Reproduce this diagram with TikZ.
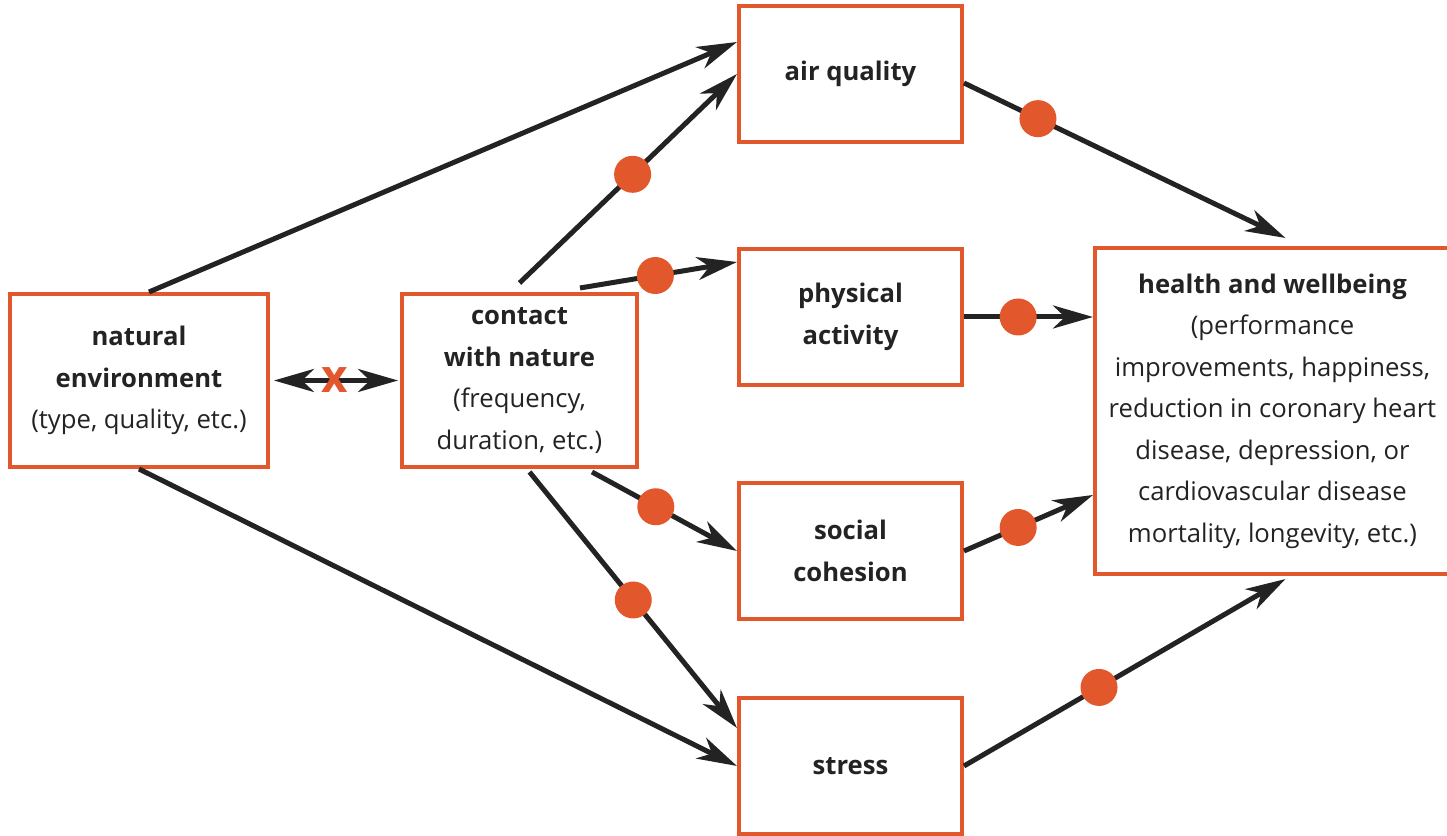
\documentclass[tikz,border=0pt]{standalone}
\usepackage{fontspec}
\setmainfont{Open Sans}
\usetikzlibrary{arrows.meta}
\definecolor{boxorange}{HTML}{E2572B}
\definecolor{linkgray}{HTML}{232323}

\begin{document}
\begin{tikzpicture}[
      link/.style={-{Stealth[length=8mm, width=4.6mm, inset=2.4mm]}, line width=1mm, linkgray},
      twoway/.style={link, {Stealth[length=8mm, width=4.6mm, inset=2.4mm]}-{Stealth[length=8mm, width=4.6mm, inset=2.4mm]}},
      factor/.style={
        draw = boxorange,
        line width = 0.8mm,
        fill = white,
        minimum width = 44.6mm,
        minimum height = 27.2mm,
        align = center,
        text = linkgray,
        font = \fontsize{14.6}{23.6}\selectfont,
        inner sep = 0.6mm,
      },
      source/.style={factor, minimum height = 34.6mm},
      outcome/.style={factor, minimum width = 71mm, minimum height = 65.2mm},
      effect/.style={circle, fill = boxorange, inner sep = 0pt, minimum size = 7.4mm},
      cross/.style={text = boxorange, font = \fontsize{26}{26}\selectfont\bfseries, inner sep = 0pt},
    ]
    \useasboundingbox (0, 0) rectangle (289.4mm, 167.2mm);

    \node[source, minimum width = 51.6mm] (natenv) at (27.8mm, 91.1mm)
      {\textbf{natural}\\\textbf{environment}\\(type, quality, etc.)};
    \node[source, minimum width = 47mm] (contact) at (103.9mm, 91.1mm)
      {\textbf{contact}\\\textbf{with nature}\\(frequency,\\duration, etc.)};

    \node[factor] (air) at (170.1mm, 152.4mm) {\textbf{air quality}};
    \node[factor] (phys) at (170.1mm, 103.8mm) {\textbf{physical}\\\textbf{activity}};
    \node[factor] (social) at (170.1mm, 57mm) {\textbf{social}\\\textbf{cohesion}};
    \node[factor] (stress) at (170.1mm, 14mm) {\textbf{stress}};

    \node[outcome] (health) at (254.5mm, 85mm)
      {\textbf{health and wellbeing}\\(performance\\improvements, happiness,\\
       reduction in coronary heart\\disease, depression, or\\
       cardiovascular disease\\mortality, longevity, etc.)};

    % direct paths from the environment
    \draw[link] ([xshift=2mm]natenv.north) -- ([yshift=6.4mm]air.west);
    \draw[link] (natenv.south) -- (stress.west);
    \draw[twoway, shorten <=0.8mm, shorten >=0.4mm] (natenv) -- node[cross] {x} (contact);

    % pathways through contact with nature
    \draw[link] ([yshift=1.8mm]contact.north) -- node[effect, pos=0.52] {} (air.west);
    \draw[link] ([xshift=-11.8mm, yshift=0.8mm]contact.north east) -- node[effect, pos=0.48] {}
      ([yshift=11mm]phys.west);
    \draw[link] ([xshift=-9.4mm, yshift=-0.6mm]contact.south east) -- node[effect, pos=0.44] {}
      (social.west);
    \draw[link] ([xshift=2mm, yshift=-0.6mm]contact.south) -- node[effect, pos=0.5] {}
      ([yshift=7.6mm]stress.west);

    % from the mediators to health
    \draw[link] ([yshift=-1.8mm]air.east) -- node[effect, pos=0.23] {}
      ([xshift=2.6mm, yshift=1.6mm]health.north);
    \draw[link] (phys.east) -- node[effect, pos=0.42] {} (phys.east -| health.west);
    \draw[link] (social.east) -- node[effect, pos=0.42] {}
      ([yshift=-16.8mm]health.west);
    \draw[link] (stress.east) -- node[effect, pos=0.42] {}
      ([xshift=2.6mm, yshift=-0.6mm]health.south);
  \end{tikzpicture}
\end{document}
